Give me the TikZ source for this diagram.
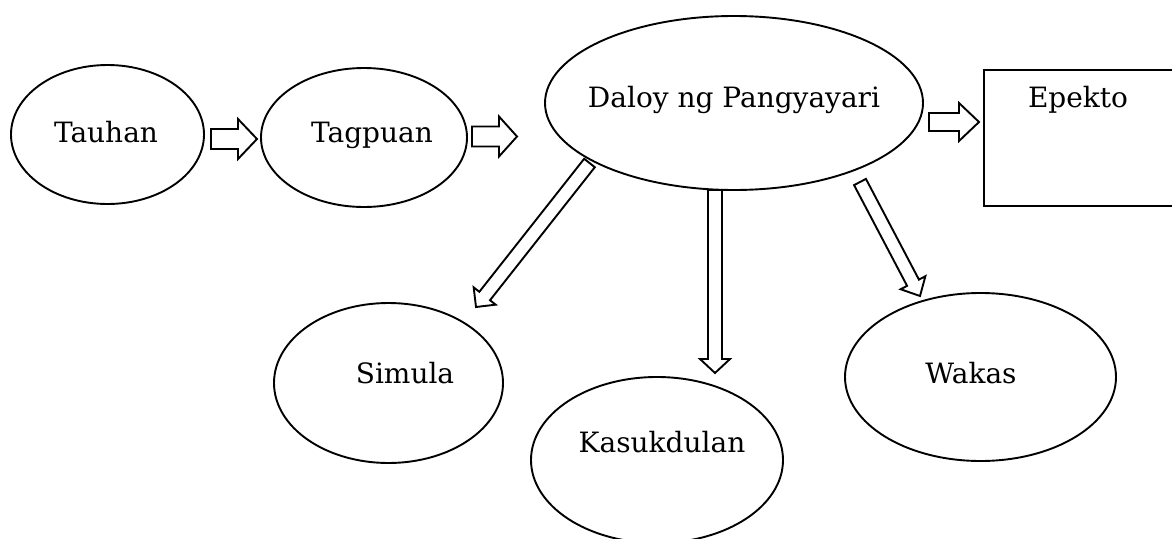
\documentclass[tikz,border=0pt]{standalone}
\usepackage{fontspec}
\setmainfont{DejaVu Serif}
\usetikzlibrary{calc,shapes.geometric}
\tikzset{
  oval/.style={draw, ellipse, line width=1.9pt, inner sep=0pt},
  lbl/.style={anchor=base, inner sep=0pt, font=\fontsize{28}{32}\selectfont},
  barrow/.style={draw, line width=1.9pt, fill=white, line join=miter},
}
% tail, tip, shaft half width, head half width, head length
\newcommand\blockarrow[5]{%
  \draw[barrow] let \p1=(#1), \p2=(#2),
    \n1={atan2(\y2-\y1,\x2-\x1)}, \n2={veclen(\x2-\x1,\y2-\y1)} in
    [shift={(\p1)}, rotate=\n1, x=1pt, y=1pt]
    (0,-#3) -- ({\n2-#5},-#3) -- ({\n2-#5},-#4) -- (\n2,0)
    -- ({\n2-#5},#4) -- ({\n2-#5},#3) -- (0,#3) -- cycle;}
\begin{document}
\begin{tikzpicture}[x=1pt, y=-1pt]
\useasboundingbox (0,0) rectangle (1172,538);
\clip (0,0) rectangle (1172,538);
% ellipses
\node[oval, minimum width=193pt, minimum height=139pt] (tauhan) at (107.5,134.5) {};
\node[oval, minimum width=206pt, minimum height=139pt] (tagpuan) at (364,137.5) {};
\node[oval, minimum width=378pt, minimum height=174pt] (daloy) at (734,103) {};
\node[oval, minimum width=229pt, minimum height=160pt] (simula) at (388.5,383) {};
\node[oval, minimum width=252pt, minimum height=166pt] (kasuk) at (657,460) {};
\node[oval, minimum width=271pt, minimum height=168pt] (wakas) at (980.5,377) {};
\node[draw, line width=1.9pt, minimum width=220pt, minimum height=136pt, inner sep=0pt] (epekto) at (1094,138) {};
% labels
\node[lbl] (tTauhan) at (106,142) {Tauhan};
\node[lbl] (tTagpuan) at (372,142) {Tagpuan};
\node[lbl] (tDaloy) at (734,107) {Daloy ng Pangyayari};
\node[lbl] (tEpekto) at (1078,107) {Epekto};
\node[lbl] (tSimula) at (405,383) {Simula};
\node[lbl] (tKasuk) at (662,452) {Kasukdulan};
\node[lbl] (tWakas) at (971,383) {Wakas};
% arrow end points
\coordinate (a1s) at (211,139); \coordinate (a1e) at (257,139);
\coordinate (a2s) at (472,136.5); \coordinate (a2e) at (517,136.5);
\coordinate (a3s) at (929,122); \coordinate (a3e) at (979,122);
\coordinate (a4s) at (715,190); \coordinate (a4e) at (715,373);
\coordinate (a5s) at (589.5,163); \coordinate (a5e) at (476,307);
\coordinate (a6s) at (860,182); \coordinate (a6e) at (920,296);
\blockarrow{a1s}{a1e}{10}{20}{19}
\blockarrow{a2s}{a2e}{10}{20}{18}
\blockarrow{a3s}{a3e}{9}{19}{20}
\blockarrow{a4s}{a4e}{7}{15}{14}
\blockarrow{a5s}{a5e}{6.8}{14}{14}
\blockarrow{a6s}{a6e}{6.7}{14}{15}
\end{tikzpicture}
\end{document}
